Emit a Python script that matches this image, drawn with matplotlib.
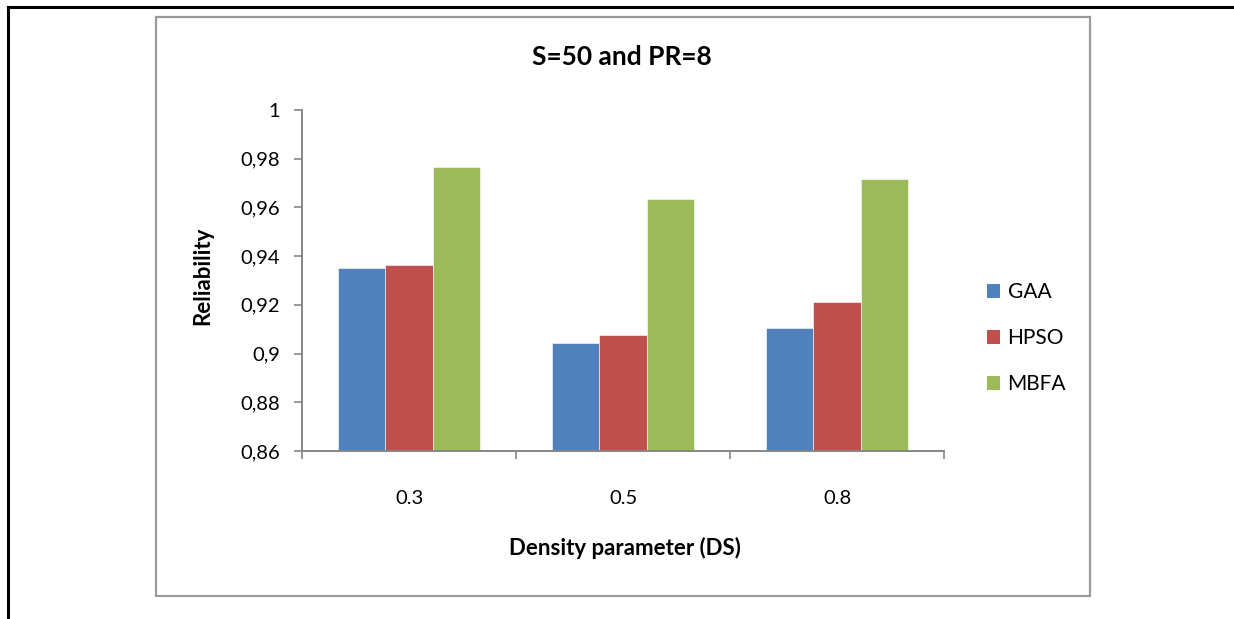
import matplotlib.pyplot as plt
from matplotlib.patches import Rectangle, Patch
import numpy as np

# ---- data ----
categories = ["0.3", "0.5", "0.8"]
series_names = ["GAA", "HPSO", "MBFA"]
gaa = [0.9352, 0.9042, 0.9106]
hpso = [0.9364, 0.9075, 0.9213]
mbfa = [0.9767, 0.9633, 0.9717]
y_ticks = [0.86, 0.88, 0.90, 0.92, 0.94, 0.96, 0.98, 1.00]
y_tick_labels = ["0,86", "0,88", "0,9", "0,92", "0,94", "0,96", "0,98", "1"]

colors = ["#4F81BD", "#C0504D", "#9BBB59"]
FONT = ["Lato", "DejaVu Sans"]
plt.rcParams["font.family"] = FONT

W, H = 1234, 619
fig = plt.figure(figsize=(W / 100, H / 100), dpi=100)


def fx(px):
    return px / W


def fy(py):
    return 1 - py / H


# outer black frame (open on right and bottom)
fig.add_artist(plt.Line2D([fx(8), fx(8)], [fy(7), 0], color="black", lw=2.2))
fig.add_artist(plt.Line2D([fx(8), 1], [fy(7), fy(7)], color="black", lw=2.2))

# chart area frame
fig.add_artist(Rectangle((fx(156), fy(596)), fx(1090) - fx(156), fy(17) - fy(596),
                         fill=False, edgecolor="#9a9a9a", lw=1.6))

ax = fig.add_axes([fx(302), fy(451), fx(944) - fx(302), fy(110) - fy(451)])

x = np.arange(len(categories))
bw = 0.22
for i, (vals, c) in enumerate(zip([gaa, hpso, mbfa], colors)):
    ax.bar(x + (i - 1) * bw, vals, width=bw, color=c, edgecolor="white",
           linewidth=0.4, bottom=0, zorder=2)

ax.set_ylim(0.86, 1.0)
ax.set_xlim(-0.5, 2.5)
ax.set_yticks(y_ticks)
ax.set_yticklabels(y_tick_labels)
ax.set_xticks(x)
ax.set_xticklabels(categories)
ax.set_xticks([-0.5, 0.5, 1.5, 2.5], minor=True)

ax.tick_params(axis="y", length=6, width=1.2, color="#868686", pad=10, labelsize=14.5)
ax.tick_params(axis="x", which="major", length=0, pad=28, labelsize=14.5)
ax.tick_params(axis="x", which="minor", length=6, width=1.2, color="#868686")

for s in ["top", "right"]:
    ax.spines[s].set_visible(False)
for s in ["left", "bottom"]:
    ax.spines[s].set_color("#868686")
    ax.spines[s].set_linewidth(1.4)

# titles
fig.text(fx(622), fy(57), "S=50 and PR=8", ha="center", va="center",
         fontsize=19, fontweight="bold")
fig.text(fx(203), fy(276), "Reliability", ha="center", va="center",
         rotation=90, fontsize=16, fontweight="bold")
fig.text(fx(625), fy(548), "Density parameter (DS)", ha="center", va="center",
         fontsize=16, fontweight="bold")

handles = [Patch(facecolor=c, edgecolor="none") for c in colors]
fig.legend(handles, series_names, loc="center left",
           bbox_to_anchor=(fx(968), fy(338)), frameon=False, fontsize=15,
           handlelength=0.65, handleheight=0.65, handletextpad=0.35,
           labelspacing=1.25)

fig.savefig("out.png", dpi=100)
